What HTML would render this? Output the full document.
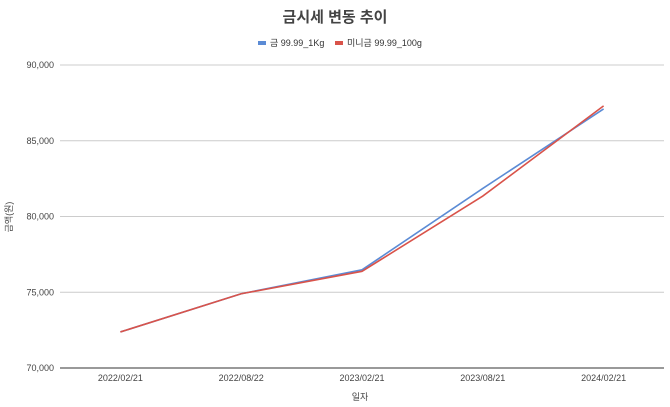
<!DOCTYPE html>
<html><head><meta charset="utf-8"><style>
body{margin:0;background:#fff;}
svg{display:block;font-family:"Liberation Sans","Noto Sans CJK KR",sans-serif;}
</style></head><body>
<svg id="chart" width="670" height="407">
<text x="335" y="22" text-anchor="middle" font-size="15" font-weight="bold" fill="#444">금시세 변동 추이</text>
<g>
<g><rect x="258" y="41" width="8" height="4" fill="#5b8bd5"/><text x="270" y="46" font-size="9" fill="#333">금 99.99_1Kg</text></g>
<g><rect x="335" y="41" width="8" height="4" fill="#d9534a"/><text x="347" y="46" font-size="9" fill="#333">미니금 99.99_100g</text></g>
</g>
<g id="grid"></g><g id="xlabels"></g><g id="lines"></g>
<text x="360" y="400" text-anchor="middle" font-size="9" fill="#444">일자</text>
<text transform="translate(12,217) rotate(-90)" text-anchor="middle" font-size="9" fill="#444">금액(원)</text>
</svg>
<script>
const categories=["2022/02/21","2022/08/22","2023/02/21","2023/08/21","2024/02/21"];
const gold1kg=[72380,74900,76480,81850,87100];
const mini100g=[72380,74900,76380,81350,87300];
const yTicks=[70000,75000,80000,85000,90000];
const ns="http://www.w3.org/2000/svg";
const L=60,R=664,T=65,B=368,yMin=70000,yMax=90000;
const x=i=>L+(R-L)/categories.length*(i+0.5);
const y=v=>B-(v-yMin)/(yMax-yMin)*(B-T);
function mk(t,a,p){const e=document.createElementNS(ns,t);for(const k in a)e.setAttribute(k,a[k]);p.appendChild(e);return e;}
const g=document.getElementById('grid');
yTicks.forEach(v=>{
const l=mk('line',{x1:L,x2:R,y1:y(v),y2:y(v),stroke:v===yMin?'#333':'#ccc','stroke-width':1},g);


const t=mk('text',{x:L-6,y:y(v)+3,'text-anchor':'end','font-size':9,fill:'#444'},g);
t.textContent=v.toLocaleString('en-US');


});
const xl=document.getElementById('xlabels');
categories.forEach((c,i)=>{
const t=mk('text',{x:x(i),y:381,'text-anchor':'middle','font-size':9,fill:'#444'},xl);
t.textContent=c;


});
const ln=document.getElementById('lines');
[[gold1kg,'#5b8bd5','series-gold-1kg'],[mini100g,'#d9534a','series-mini-gold-100g']].forEach(([d,c,n])=>{
const p=mk('polyline',{points:d.map((v,i)=>x(i)+','+y(v)).join(' '),fill:'none',stroke:c,'stroke-width':1.6},ln);


});
</script>
</body></html>
